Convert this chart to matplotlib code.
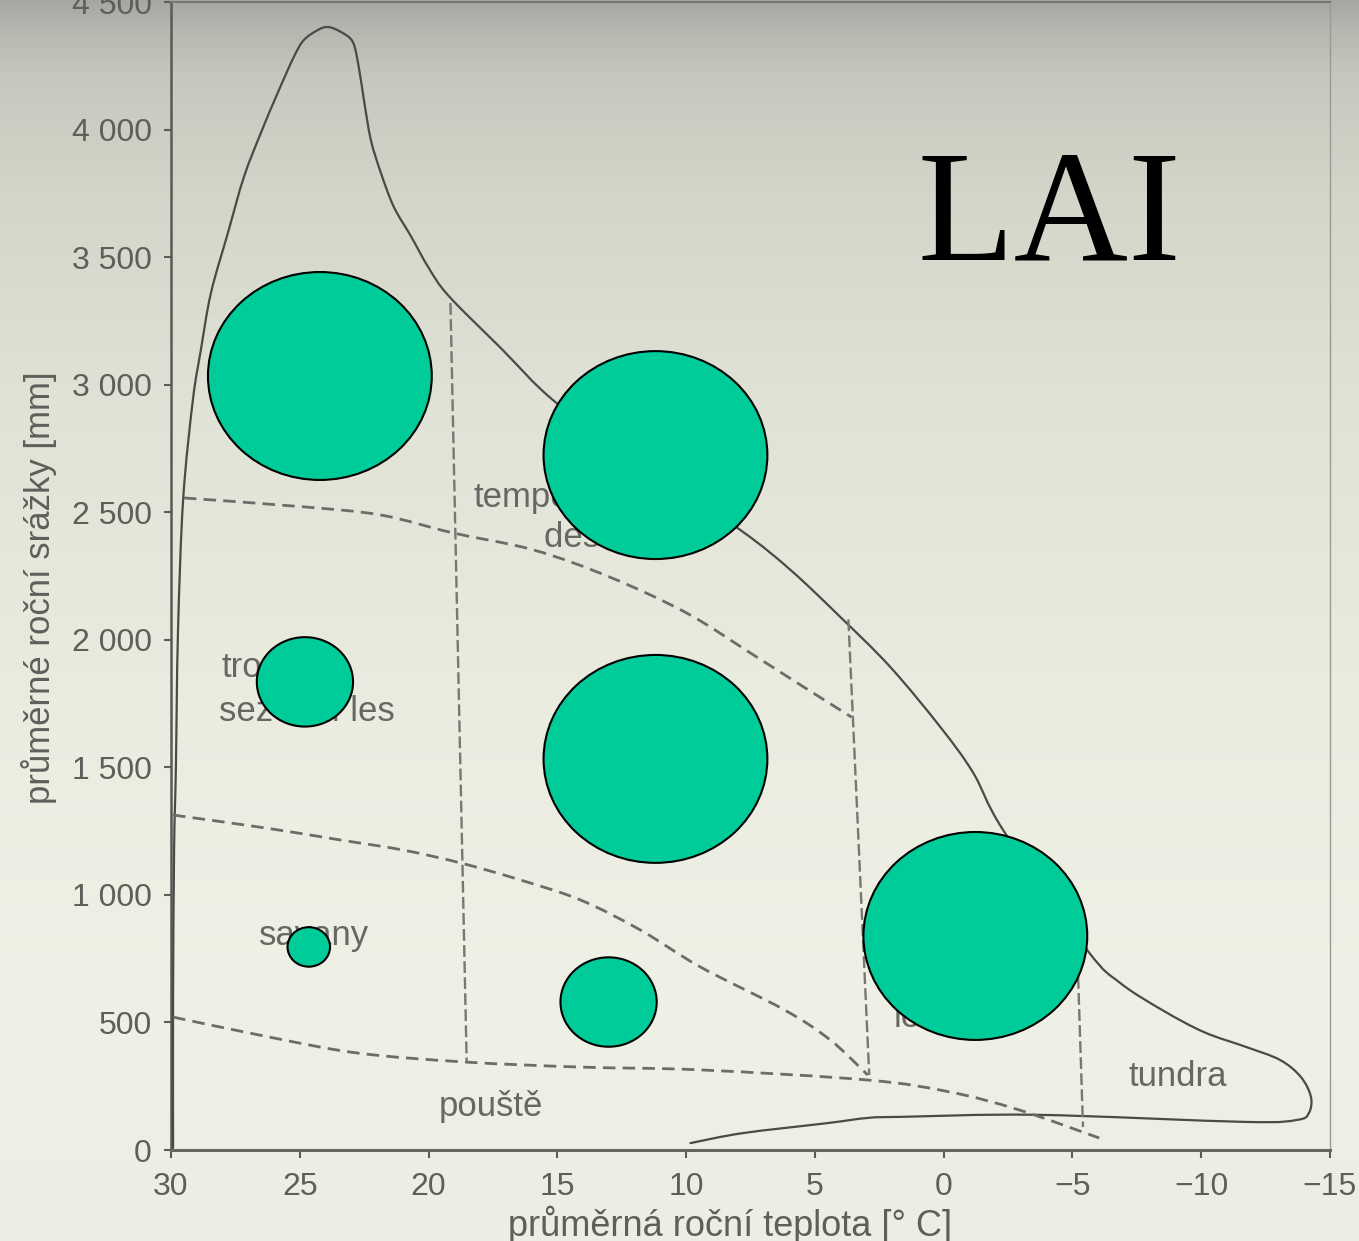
import numpy as np
import matplotlib
matplotlib.use("Agg")
import matplotlib.pyplot as plt
from matplotlib.patches import Ellipse, PathPatch
from matplotlib.path import Path

plt.rcParams['font.family'] = ['Liberation Sans', 'DejaVu Sans']

# ---------------- data ----------------
# outer envelope of biomes (temperature degC, precipitation mm)
env_t = [29.92, 29.92, 29.88, 29.81, 29.73, 29.53, 29.15, 28.84, 28.45, 27.79,
         27.17, 26.51, 25.86, 25.23, 24.84, 24.30, 23.91, 23.41, 22.94, 22.71,
         22.51, 22.24, 21.85, 21.35, 20.69, 19.99, 19.22, 17.20, 15.03, 11.38,
         7.89, 5.95, 4.01, 2.07, 0.13, -1.15, -2.31, -5.57,
         -6.85, -8.48, -10.11, -11.74, -13.06, -13.87, -14.26, -14.18, -13.72, -11.74,
         -3.59, 1.61, 2.92, 4.55, 7.81, 9.83]
env_p = [8, 588, 1176, 1501, 2027, 2548, 2940, 3136, 3359, 3595,
         3814, 3987, 4143, 4285, 4351, 4390, 4402, 4383, 4343, 4245,
         4116, 3959, 3830, 3697, 3583, 3457, 3348, 3144, 2928, 2665,
         2430, 2274, 2089, 1893, 1658, 1478, 1254, 784,
         655, 549, 462, 404, 353, 286, 208, 145, 118, 110,
         138, 130, 126, 105, 66, 27]

# dashed boundary curves
bA_t = [29.50, 24.84, 21.85, 19.06, 15.92, 12.97, 9.98, 7.50, 5.56, 3.58]
bA_p = [2556, 2521, 2489, 2419, 2352, 2246, 2105, 1948, 1823, 1697]
bB_t = [29.92, 26.31, 23.41, 21.0, 18.75, 16.42, 14.10, 11.77, 9.44, 6.18, 4.40, 2.95]
bB_p = [1313, 1262, 1215, 1176, 1125, 1058, 980, 862, 717, 549, 431, 294]
bC_t = [29.92, 26.20, 22.75, 18.60, 14.10, 9.44, 2.92, -0.26, -2.93, -6.04]
bC_p = [521, 443, 380, 345, 325, 314, 274, 227, 157, 47]

# vertical dashed dividers
v1_t = [19.15, 18.52]
v1_p = [3320, 345]
v2_t = [3.70, 2.89]
v2_p = [2080, 294]
v3_t = [-5.18, -5.41]
v3_p = [804, 90]

# biome labels (visible parts of the original labels)
biome_names = ["temperátní", "deštný les", "tropický", "sezónní les",
               "savany", "pouště", "tundra", "lesy"]
biome_t = [18.25, 15.53, 28.02, 28.14, 24.45, 17.59, -9.10, 1.95]
biome_p = [2520, 2365, 1853, 1683, 805, 135, 250, 482]
biome_ha = ["left", "left", "left", "left", "center", "center", "center", "left"]

# LAI bubbles: centre (temperature, precipitation) and relative size
lai_t = [24.22, 11.19, 11.19, -1.23, 24.80, 13.01, 24.65]
lai_p = [3034, 2724, 1533, 839, 1835, 580, 796]
lai_size = [1.0, 1.0, 1.0, 1.0, 0.43, 0.43, 0.19]

x_ticks = [30, 25, 20, 15, 10, 5, 0, -5, -10, -15]
x_ticklabels = ["30", "25", "20", "15", "10", "5", "0", "\u22125", "\u221210", "\u221215"]
y_ticks = [0, 500, 1000, 1500, 2000, 2500, 3000, 3500, 4000, 4500]
y_ticklabels = ["0", "500", "1 000", "1 500", "2 000", "2 500", "3 000", "3 500", "4 000", "4 500"]


def smooth_path(xs, ys):
    """Catmull-Rom curve through the given points, as cubic Bezier path."""
    P = np.column_stack([xs, ys]).astype(float)
    n = len(P)
    verts = [P[0]]
    codes = [Path.MOVETO]
    for i in range(n - 1):
        p0 = P[i - 1] if i > 0 else P[i]
        p1 = P[i]
        p2 = P[i + 1]
        p3 = P[i + 2] if i + 2 < n else P[i + 1]
        c1 = p1 + (p2 - p0) / 6.0
        c2 = p2 - (p3 - p1) / 6.0
        verts += [c1, c2, p2]
        codes += [Path.CURVE4] * 3
    return Path(np.array(verts), codes)


# ---------------- figure ----------------
W, H = 1359, 1241
fig = plt.figure(figsize=(W / 100, H / 100), dpi=100)

# paper-like background gradient
bg = fig.add_axes([0, 0, 1, 1], zorder=-10)
stops = np.array([0, 30, 80, 200, 400, 700, 1000, 1241]) / 1241.0
cols = np.array([[166, 167, 163], [182, 183, 176], [200, 201, 190], [212, 214, 202],
                 [224, 226, 214], [234, 236, 224], [239, 241, 230], [236, 238, 228]]) / 255.0
yy = np.linspace(0, 1, 800)
grad = np.stack([np.interp(yy, stops, cols[:, i]) for i in range(3)], axis=-1)
img = np.repeat(grad[:, None, :], 2, axis=1)
bg.imshow(img, aspect='auto', extent=[0, 1, 0, 1], origin='upper')
bg.set_xlim(0, 1)
bg.set_ylim(0, 1)
bg.axis('off')

ax = fig.add_axes([171 / W, (H - 1150) / H, 1159 / W, 1148 / H])
ax.set_facecolor('none')
ax.set_xlim(30, -15)
ax.set_ylim(0, 4500)

ax.add_patch(PathPatch(smooth_path(env_t, env_p), fill=False, edgecolor='#4a4a46',
                       lw=1.6, zorder=3, joinstyle='round', capstyle='round'))

for tt, pp in [(bA_t, bA_p), (bB_t, bB_p), (bC_t, bC_p)]:
    ax.add_patch(PathPatch(smooth_path(tt, pp), fill=False, edgecolor='#6c6c68',
                           lw=2.0, linestyle=(0, (4.5, 2.6)), zorder=3))
for tt, pp in [(v1_t, v1_p), (v2_t, v2_p), (v3_t, v3_p)]:
    ln, = ax.plot(tt, pp, color='#777773', lw=1.7, zorder=3)
    ln.set_dashes((5, 1.8))

for name, t, p, ha in zip(biome_names, biome_t, biome_p, biome_ha):
    ax.text(t, p, name, fontsize=25, color='#676763', ha=ha, va='baseline', zorder=2)

# bubbles
base_w = 8.69   # degC
base_h = 815.0  # mm
for t, p, s in zip(lai_t, lai_p, lai_size):
    ax.add_patch(Ellipse((t, p), base_w * s, base_h * s, facecolor='#00CC99',
                         edgecolor='black', lw=1.5, zorder=5))

ax.set_xticks(x_ticks)
ax.set_xticklabels(x_ticklabels)
ax.set_yticks(y_ticks)
ax.set_yticklabels(y_ticklabels)
ax.tick_params(axis='both', direction='out', labelsize=23, labelcolor='#5e5e5a',
               color='#5c5c58', width=1.5)
ax.tick_params(axis='x', length=6, pad=10)
ax.tick_params(axis='y', length=5, pad=9)

ax.spines['left'].set(color='#5a5a55', lw=1.8)
ax.spines['bottom'].set(color='#66665f', lw=2.2)
ax.spines['top'].set(color='#77776f', lw=1.5)
ax.spines['right'].set(color='#9a9a95', lw=1.0)

ax.set_xlabel('průměrná roční teplota [° C]', fontsize=26, color='#5e5e5a')
ax.xaxis.set_label_coords(0.482, -0.048)
ax.set_ylabel('průměrné roční srážky [mm]', fontsize=25, color='#5e5e5a')
ax.yaxis.set_label_coords(-0.098, 0.49)

fig.text(917 / W, 1 - 260 / H, 'LAI', family=['Liberation Serif', 'DejaVu Serif'],
         fontsize=114, color='black', ha='left', va='baseline')

fig.savefig('out.png', dpi=100)
